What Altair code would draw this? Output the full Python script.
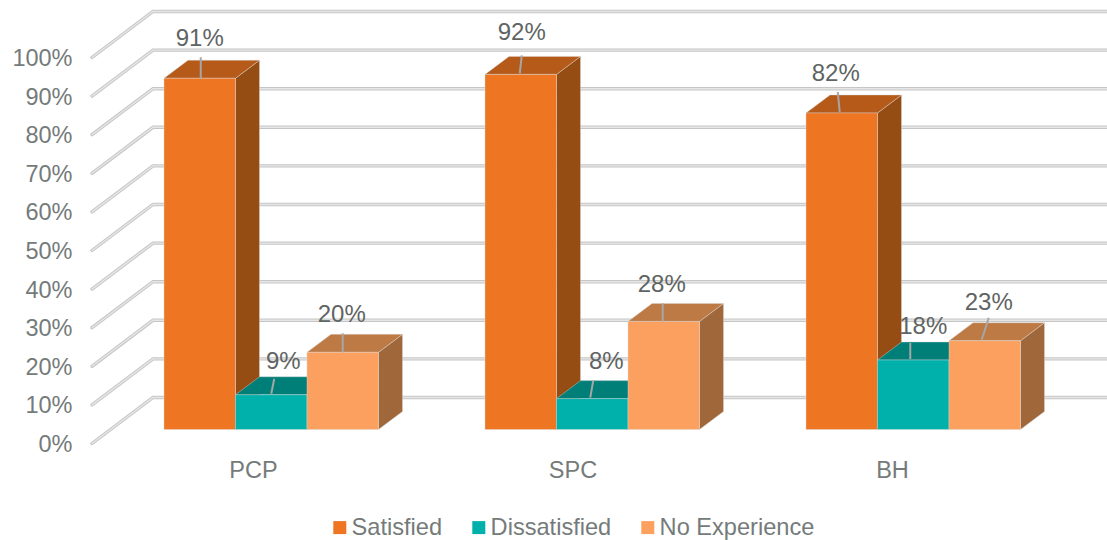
import altair as alt
import pandas as pd

categories = ["PCP", "SPC", "BH"]
series = ["Satisfied", "Dissatisfied", "No Experience"]
satisfied = [91, 92, 82]
dissatisfied = [9, 8, 18]
no_experience = [20, 28, 23]
values_by_series = [satisfied, dissatisfied, no_experience]
percent_ticks = list(range(0, 101, 10))

front_colors = ["#EE7623", "#00B0AA", "#FBA05F"]
top_colors = ["#B55A19", "#007E78", "#BD7A45"]
side_colors = ["#964D13", "#00635E", "#A0673A"]

# Layout of the fake 3D box, in screen pixels
PAD_LEFT, PAD_TOP = 92, 57.5
PLOT_W, PLOT_H = 1015, 386
PX_PER_UNIT = PLOT_H / 100
FLOOR_LIFT = 14 / PX_PER_UNIT     # bar base sits above the front edge of the floor
WALL_DX, WALL_DY = 61, 46 / PX_PER_UNIT
BAR_DX, BAR_DY = 24, 18 / PX_PER_UNIT
GROUP_START, GROUP_STEP, BAR_W = 72, 321, 71.5
CATEGORY_SHIFT, CATEGORY_STEP = 89, 319.5

# Data-label placement relative to the centre of each bar's front top edge: (dx, dy) in pixels
label_offsets = [
    [(0, -39), (12, -33), (-1, -37)],
    [(1, -41), (14, -37), (-2, -36)],
    [(-6, -39), (10, -33), (4, -38)],
]
# Leader lines: foot and head relative to the same point
leader_offsets = [
    [(1, 0, 1, -21), (0, -1, 3, -16), (0, 0, 0, -19)],
    [(-1, -1, 1, -19), (-2, -1, 1, -18), (-1, 0, -1, -18)],
    [(-2, -1, -4, -21), (-3, -1, -3, -17), (-3, -1, 4, -23)],
]

x_scale = alt.Scale(domain=[0, PLOT_W], nice=False, zero=False)
y_scale = alt.Scale(domain=[0, 100], nice=False, zero=False)
category_centers = [GROUP_START + CATEGORY_SHIFT + i * CATEGORY_STEP for i in range(len(categories))]
category_js = "[" + ",".join(f"'{c}'" for c in categories) + "]"

FONT = "Liberation Sans"
TEXT_GREY = "#757B7A"


def x_enc(field="x"):
    return alt.X(f"{field}:Q", scale=x_scale, axis=alt.Axis(
        values=category_centers,
        labelExpr=f"{category_js}[round((datum.value-{category_centers[0]})/{CATEGORY_STEP})]",
        title=None, domain=False, ticks=False, grid=False, labelFont=FONT, labelFontSize=23.5,
        labelColor=TEXT_GREY, labelPadding=15, labelOverlap=False, labelFlush=False, labelBound=False,
    ))


def y_enc(field="y"):
    return alt.Y(f"{field}:Q", scale=y_scale, axis=alt.Axis(
        values=percent_ticks, labelExpr="datum.value + '%'",
        title=None, domain=False, ticks=False, grid=False, labelFont=FONT, labelFontSize=23.5,
        labelColor=TEXT_GREY, labelPadding=20, labelOffset=1,
        labelOverlap=False, labelFlush=False, labelBound=False,
    ))


# Gridlines run up the side wall and then across the back wall
grid_rows = []
for t in percent_ticks:
    grid_rows += [
        {"tick": t, "i": 0, "x": 0, "y": t},
        {"tick": t, "i": 1, "x": WALL_DX, "y": t + WALL_DY},
        {"tick": t, "i": 2, "x": PLOT_W, "y": t + WALL_DY},
    ]
grid_df = pd.DataFrame(grid_rows)


def grid_layer(color, width):
    return alt.Chart(grid_df).mark_line(color=color, strokeWidth=width, strokeCap="round", clip=False).encode(
        x=x_enc(), y=y_enc(), detail="tick:N", order="i:Q"
    )


layers = [grid_layer("#C6C6C6", 3.4), grid_layer("#E6E6E6", 1.4)]

label_rows, leader_rows = [], []
for s, name in enumerate(series):
    side_rows, top_rows, front_rows = [], [], []
    for c, cat in enumerate(categories):
        v = values_by_series[s][c]
        x0 = GROUP_START + c * GROUP_STEP + s * BAR_W
        x1 = x0 + BAR_W
        low, high = FLOOR_LIFT, FLOOR_LIFT + v
        front_rows.append({"series": name, "x": x0, "x2": x1, "y": low, "y2": high})
        side_rows += [
            {"bar": cat, "x": x1, "y": low, "y2": high},
            {"bar": cat, "x": x1 + BAR_DX, "y": low + BAR_DY, "y2": high + BAR_DY},
        ]
        top_rows += [
            {"bar": cat, "x": x0, "y": high, "y2": high},
            {"bar": cat, "x": x0 + BAR_DX, "y": high, "y2": high + BAR_DY},
            {"bar": cat, "x": x1, "y": high, "y2": high + BAR_DY},
            {"bar": cat, "x": x1 + BAR_DX, "y": high + BAR_DY, "y2": high + BAR_DY},
        ]
        cx = (x0 + x1) / 2
        dx, dy = label_offsets[c][s]
        label_rows.append({"x": cx + dx, "y": high - dy / PX_PER_UNIT, "text": f"{v}%"})
        fx, fy, hx, hy = leader_offsets[c][s]
        leader_rows.append({"x": cx + fx, "y": high - fy / PX_PER_UNIT,
                            "x2": cx + hx, "y2": high - hy / PX_PER_UNIT})

    for rows, color in ((side_rows, side_colors[s]), (top_rows, top_colors[s])):
        layers.append(
            alt.Chart(pd.DataFrame(rows))
            .mark_area(color=color, orient="vertical", clip=False, stroke="#D8D8D8", strokeWidth=0.6, strokeOpacity=0.7)
            .encode(x=x_enc(), y=y_enc(), y2="y2:Q", detail="bar:N")
        )
    layers.append(
        alt.Chart(pd.DataFrame(front_rows))
        .mark_rect(clip=False, stroke="#D8D8D8", strokeWidth=0.6, strokeOpacity=0.7)
        .encode(
            x=x_enc(), x2="x2:Q", y=y_enc(), y2="y2:Q",
            color=alt.Color("series:N", scale=alt.Scale(domain=series, range=front_colors), legend=alt.Legend(
                orient="none", direction="horizontal", columns=3, legendX=236, legendY=458,
                title=None, symbolType="square", symbolSize=169, symbolStrokeWidth=0, symbolOpacity=1,
                columnPadding=24, labelFont=FONT, labelFontSize=23.6, labelColor=TEXT_GREY, labelOffset=0,
                labelLimit=300,
            )),
        )
    )

layers.append(
    alt.Chart(pd.DataFrame(leader_rows)).mark_rule(color="#A6A6A6", strokeWidth=2, clip=False).encode(
        x=x_enc(), x2="x2:Q", y=y_enc(), y2="y2:Q"
    )
)
layers.append(
    alt.Chart(pd.DataFrame(label_rows))
    .mark_text(font=FONT, fontSize=24, color="#5F6463", align="center", baseline="middle", clip=False)
    .encode(x=x_enc(), y=y_enc(), text="text:N")
)

chart = (
    alt.layer(*layers)
    .properties(
        width=PLOT_W, height=PLOT_H, background="white",
        padding={"left": PAD_LEFT, "top": PAD_TOP, "right": 0, "bottom": 96.5},
        autosize=alt.AutoSizeParams(type="none"),
    )
    .configure_view(stroke=None)
)

chart.save("out.html", embed_options={"renderer": "svg", "actions": False})
